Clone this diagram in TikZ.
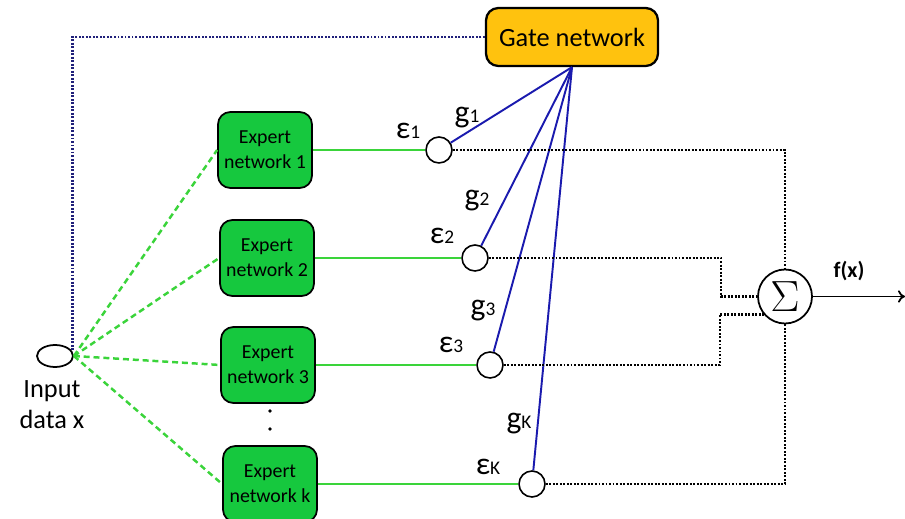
\documentclass[tikz,border=0pt]{standalone}
\usepackage{fontspec}
\setmainfont{Carlito}
\usepackage{tikz}
\usetikzlibrary{arrows.meta,shapes.geometric}
\definecolor{expgreen}{HTML}{16C83E}
\definecolor{gateyellow}{HTML}{FFC20E}
\definecolor{linkgreen}{HTML}{3AD43A}
\definecolor{gateblue}{HTML}{1A1AAE}
\definecolor{inputnavy}{HTML}{20207A}

\begin{document}
\begin{tikzpicture}[
    x=0.02cm, y=-0.02cm,
    expert/.style={draw, line width=1pt, rounded corners=7pt, fill=expgreen, minimum width=1.88cm, minimum height=1.52cm, align=center, inner sep=1pt, font=\fontsize{11.3}{14.2}\selectfont},
    gatebox/.style={draw, line width=1.3pt, rounded corners=7pt, fill=gateyellow, minimum width=3.44cm, minimum height=1.16cm, font=\fontsize{15}{18}\selectfont},
    mixer/.style={draw, circle, line width=0.9pt, minimum size=0.52cm, inner sep=0pt},
    feed/.style={linkgreen, line width=1.4pt, dash pattern=on 3.4pt off 2.2pt},
    link/.style={linkgreen, line width=1.3pt},
    weight/.style={gateblue, line width=1.1pt},
    collect/.style={line width=1.3pt, dash pattern=on 1.1pt off 0.9pt},
    lbl/.style={font=\fontsize{18}{18}\selectfont, inner sep=0pt}
]
\useasboundingbox (0,0) rectangle (905,519);

% ---- Input ----
\node[draw, ellipse, line width=1pt, minimum width=0.72cm, minimum height=0.44cm, inner sep=0pt] (input) at (55,356) {};
\node[align=center, font=\fontsize{15}{17.6}\selectfont] (inlabel) at (52,405) {Input\\data x};

% ---- Gate ----
\node[gatebox] (gate) at (572,37) {Gate network};

% ---- Experts ----
\node[expert] (ex1) at (265,150) {Expert\\network 1};
\node[expert] (ex2) at (267,258) {Expert\\network 2};
\node[expert] (ex3) at (268,365) {Expert\\network 3};
\node[expert] (exk) at (270,484) {Expert\\network k};
\fill (270,411) circle (1pt) (270,429) circle (1pt);

% ---- Mixing points ----
\node[mixer] (c1) at (439,150) {};
\node[mixer] (c2) at (475,258) {};
\node[mixer] (c3) at (490,365) {};
\node[mixer] (ck) at (532,484) {};

\node[lbl] (e1) at (408,131) {ε{\fontsize{11}{11}\selectfont 1}};
\node[lbl] (e2) at (442,236) {ε{\fontsize{11}{11}\selectfont 2}};
\node[lbl] (e3) at (451,345) {ε{\fontsize{11}{11}\selectfont 3}};
\node[lbl] (ek) at (488,467) {ε{\fontsize{11}{11}\selectfont K}};
\node[lbl] (g1) at (467,118) {g{\fontsize{11}{11}\selectfont 1}};
\node[lbl] (g2) at (477,201) {g{\fontsize{11}{11}\selectfont 2}};
\node[lbl] (g3) at (483,311) {g{\fontsize{11}{11}\selectfont 3}};
\node[lbl] (gk) at (519,424) {g{\fontsize{11}{11}\selectfont K}};

% ---- Sum ----
\node[draw, circle, line width=1pt, minimum size=1.08cm, inner sep=0pt] (sum) at (785,296.5) {\fontsize{27}{27}\selectfont$\Sigma$};
\coordinate (out) at (905,296.5);
\node[font=\bfseries\fontsize{12.5}{14}\selectfont] (fx) at (849,271) {f(x)};

% ---- Input arrows ----
\draw[inputnavy, line width=1.3pt, dash pattern=on 1.1pt off 0.9pt] (gate.west) -| (input.15);
\draw[feed] (input.east) -- (ex1.west);
\draw[feed] (input.east) -- (ex2.west);
\draw[feed] (input.east) -- (ex3.west);
\draw[feed] (input.east) -- (exk.west);

% ---- Expert outputs ----
\draw[link] (ex1) -- (c1);
\draw[link] (ex2) -- (c2);
\draw[link] (ex3) -- (c3);
\draw[link] (exk) -- (ck);

% ---- Gate weights ----
\draw[weight] (gate.south) -- (c1);
\draw[weight] (gate.south) -- (c2);
\draw[weight] (gate.south) -- (c3);
\draw[weight] (gate.south) -- (ck);

% ---- Into the sum ----
\draw[collect] (c1.east) -| (sum.north);
\draw[collect] (c2.east) -| ([xshift=-0.72cm]sum.west) -- (sum.west);
\draw[collect] (c3.east) -| ([xshift=-0.88cm]sum.220) -- (sum.220);
\draw[collect] (ck.east) -| (sum.south);

\draw[line width=1pt, -{To[length=4pt,width=7pt]}] (sum.east) -- (out);

\end{tikzpicture}
\end{document}
